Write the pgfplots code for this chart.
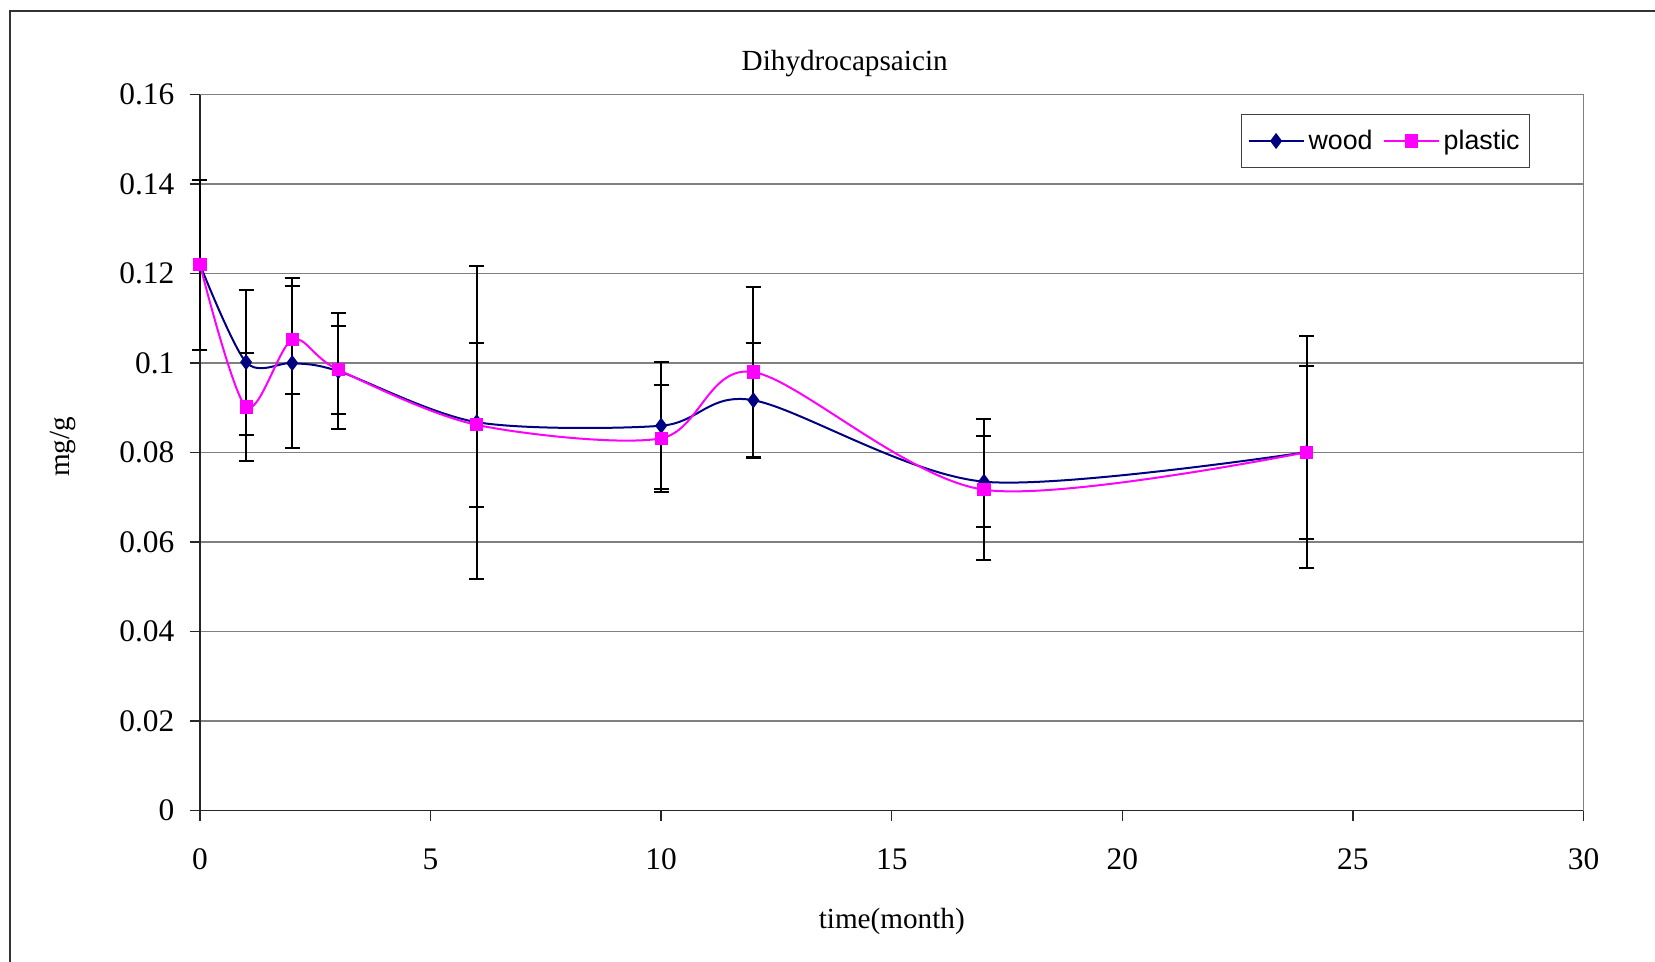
\documentclass[border=0pt]{standalone}
\usepackage{fontspec}
\setmainfont{Liberation Serif}
\newfontfamily\arial{Liberation Sans}
\usepackage{pgfplots}
\pgfplotsset{compat=1.18}
\definecolor{woodc}{RGB}{0,0,128}
\definecolor{plasticc}{RGB}{255,0,255}
\definecolor{gridc}{RGB}{128,128,128}
\begin{document}
\begin{tikzpicture}
\useasboundingbox (-100pt,-75.7pt) rectangle (727.5pt,405.3pt);
\draw[line width=1pt, black!80] (-95pt,-90pt) -- (-95pt,399.8pt) -- (740pt,399.8pt);
\begin{axis}[
  at={(0,0)}, anchor=south west, scale only axis,
  width=691.75pt, height=358pt,
  xmin=0, xmax=30, ymin=0, ymax=0.16,
  xtick={0,5,...,30},
  ytick={0,0.02,0.04,0.06,0.08,0.1,0.12,0.14,0.16},
  axis x line*=bottom, axis y line*=left,
  axis line style={-, black!85, line width=0.8pt},
  tick align=outside, major tick length=5pt,
  tick style={black!85, line width=0.7pt},
  ymajorgrids, grid style={gridc, line width=0.65pt},
  /pgf/number format/assume math mode=true,
  /pgf/number format/fixed, /pgf/number format/precision=2,
  ticklabel style={font=\fontsize{15.7}{18}\selectfont},
  xticklabel style={yshift=-10.4pt},
  yticklabel style={xshift=-4.3pt},
  title={Dihydrocapsaicin},
  title style={at={(0.466,1.027)}, anchor=center, font=\fontsize{14.6}{17}\selectfont},
  xlabel={time(month)},
  xlabel style={at={(0.5,-0.1545)}, anchor=center, font=\fontsize{14.6}{17}\selectfont},
  ylabel={mg/g},
  ylabel style={at={(-0.099,0.508)}, anchor=center, rotate=0, font=\fontsize{14.6}{17}\selectfont},
  clip=false,
  legend columns=2,
  legend style={at={(0.7525,0.9728)}, anchor=north west, draw=black!75, line width=0.5pt,
    font=\arial\fontsize{13.4}{15}\selectfont, inner xsep=3pt, inner ysep=5.6pt,
    /tikz/every even column/.append style={column sep=3pt}},
  legend image code/.code={\draw[mark repeat=2,mark phase=2] plot coordinates {(0pt,0pt)(13.75pt,0pt)(27.5pt,0pt)};},
  error bars/error bar style={black, line width=1pt},
  error bars/error mark options={black, line width=1pt, mark size=3.75pt, rotate=90},
]
\draw[gridc, line width=0.65pt] (rel axis cs:1,0) -- (rel axis cs:1,1);
\addplot[woodc, line width=1pt, smooth, mark=diamond*, mark size=3.2pt, mark options={fill=woodc, draw=woodc},
  error bars/.cd, y dir=both, y explicit]
  table[x=t, y=v, y error=e] {
t v e
0 0.122 0.019
1 0.1002 0.0162
2 0.1000 0.019
3 0.0982 0.013
6 0.0868 0.035
10 0.0860 0.0142
12 0.0917 0.0129
17 0.0735 0.0101
24 0.0801 0.026
};
\addlegendentry{wood}
\addplot[plasticc, line width=1pt, smooth, mark=square*, mark size=2.8pt, mark options={fill=plasticc, draw=plasticc},
  error bars/.cd, y dir=both, y explicit]
  table[x=t, y=v, y error=e] {
t v e
0 0.122 0.019
1 0.0902 0.012
2 0.1052 0.012
3 0.0985 0.0098
6 0.0862 0.0183
10 0.0832 0.012
12 0.0980 0.019
17 0.0717 0.0157
24 0.0801 0.0193
};
\addlegendentry{plastic}
\end{axis}
\end{tikzpicture}
\end{document}
